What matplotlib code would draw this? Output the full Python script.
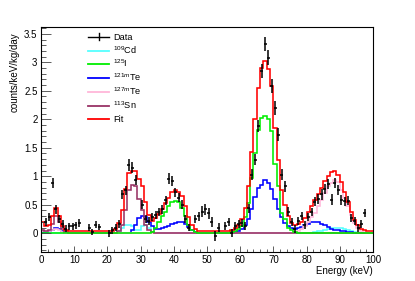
import matplotlib
matplotlib.use("Agg")
import matplotlib.pyplot as plt
import numpy as np
from matplotlib.ticker import MultipleLocator, FuncFormatter
from matplotlib.lines import Line2D

plt.rcParams['font.family'] = ['Liberation Sans', 'DejaVu Sans']
plt.rcParams['mathtext.fontset'] = 'custom'
plt.rcParams['mathtext.rm'] = 'Liberation Sans'
plt.rcParams['mathtext.it'] = 'Liberation Sans:italic'

# ---------------- data ----------------
energy_min, energy_max, bin_width = 0, 100, 1

data_energy = [1.5, 2.5, 3.5, 4.5, 5.5, 6.5, 7.5, 8.5, 9.5, 10.5, 11.5, 14.5, 15.5, 16.5, 17.5,
               20.5, 21.5, 22.5, 23.5, 24.5, 25.5, 26.5, 27.5, 28.5, 30.5, 31.5, 32.5, 33.5,
               34.5, 35.5, 36.5, 37.5, 38.5, 39.5, 40.5, 41.5, 42.5, 43.5, 44.5, 46.5, 47.5,
               48.5, 49.5, 50.5, 51.5, 52.5, 53.5, 55.5, 56.5, 57.5, 58.5, 59.5, 60.5, 61.5,
               62.5, 63.5, 64.5, 65.5, 66.5, 67.5, 68.5, 69.5, 70.5, 71.5, 72.5, 73.5, 74.5,
               75.5, 76.5, 77.5, 78.5, 79.5, 80.5, 81.5, 82.5, 83.5, 84.5, 85.5, 86.5, 87.5,
               88.5, 89.5, 90.5, 91.5, 92.5, 93.5, 94.5, 95.5, 96.5, 97.5]
data_rate = [0.2, 0.28, 0.88, 0.42, 0.25, 0.17, 0.08, 0.12, 0.12, 0.14, 0.18, 0.1, 0.02, 0.15, 0.11,
             0.0, 0.05, 0.1, 0.17, 0.68, 0.75, 1.2, 1.15, 0.93, 0.5, 0.25, 0.22, 0.28,
             0.32, 0.37, 0.42, 0.58, 0.96, 0.92, 0.72, 0.62, 0.5, 0.25, 0.1, 0.25, 0.3,
             0.38, 0.42, 0.35, 0.2, -0.05, 0.1, 0.12, 0.2, 0.0, 0.12, 0.16, 0.18, 0.12,
             0.44, 1.03, 1.29, 1.88, 2.85, 3.32, 3.08, 2.58, 2.2, 1.73, 1.03, 0.82, 0.38,
             0.2, 0.08, 0.22, 0.3, 0.14, 0.29, 0.38, 0.55, 0.6, 0.68, 0.78, 0.87, 0.59,
             0.88, 0.76, 0.58, 0.56, 0.57, 0.26, 0.21, 0.09, 0.17, 0.35]
data_err = [0.07, 0.07, 0.09, 0.08, 0.07, 0.07, 0.06, 0.06, 0.06, 0.06, 0.07, 0.06, 0.06, 0.06, 0.06,
            0.06, 0.06, 0.06, 0.07, 0.08, 0.08, 0.1, 0.1, 0.09, 0.08, 0.07, 0.07, 0.07,
            0.07, 0.07, 0.08, 0.08, 0.09, 0.09, 0.08, 0.08, 0.08, 0.07, 0.07, 0.07, 0.08,
            0.09, 0.1, 0.1, 0.09, 0.08, 0.08, 0.07, 0.07, 0.07, 0.07, 0.07, 0.07, 0.07,
            0.08, 0.1, 0.1, 0.11, 0.12, 0.13, 0.13, 0.12, 0.12, 0.11, 0.1, 0.09, 0.08,
            0.07, 0.07, 0.07, 0.07, 0.07, 0.07, 0.07, 0.08, 0.08, 0.09, 0.09, 0.09, 0.09,
            0.09, 0.09, 0.09, 0.08, 0.08, 0.07, 0.07, 0.07, 0.07, 0.07]

cd109 = [0, 0, 0, 0, 0, 0, 0, 0, 0, 0,
         0, 0, 0, 0, 0, 0, 0, 0, 0, 0,
         0, 0, 0, 0.03, 0.1, 0.15, 0.15, 0.12, 0.06, 0.06,
         0.12, 0.15, 0.1, 0.02, 0, 0, 0, 0, 0, 0,
         0, 0, 0, 0, 0, 0, 0, 0, 0, 0,
         0, 0, 0, 0, 0, 0, 0, 0, 0, 0,
         0, 0, 0, 0, 0, 0, 0, 0, 0, 0,
         0, 0, 0, 0, 0, 0, 0, 0, 0, 0,
         0.01, 0.01, 0.02, 0.03, 0.04, 0.06, 0.08, 0.1, 0.1, 0.1,
         0.09, 0.07, 0.05, 0.03, 0.02, 0.01, 0, 0, 0, 0]
i125 = [0, 0, 0, 0, 0, 0, 0, 0, 0, 0,
        0, 0, 0, 0, 0, 0, 0, 0, 0, 0,
        0, 0, 0, 0, 0, 0, 0, 0, 0, 0,
        0, 0, 0, 0.02, 0.1, 0.2, 0.3, 0.38, 0.47, 0.55,
        0.57, 0.55, 0.45, 0.3, 0.15, 0.06, 0.02, 0, 0, 0,
        0, 0, 0, 0, 0, 0, 0, 0.02, 0.04, 0.07,
        0.13, 0.28, 0.53, 0.97, 1.41, 1.82, 2.02, 2.05, 2.0, 1.8,
        1.22, 0.82, 0.35, 0.25, 0.1, 0.05, 0.02, 0.01, 0, 0,
        0, 0, 0, 0, 0, 0, 0, 0, 0, 0,
        0, 0, 0, 0, 0, 0, 0, 0, 0, 0]
te121m = [0.02, 0.02, 0.03, 0.06, 0.1, 0.07, 0.03, 0.01, 0, 0,
          0, 0, 0, 0, 0, 0, 0, 0, 0, 0,
          0, 0, 0, 0, 0, 0, 0.01, 0.05, 0.15, 0.26,
          0.3, 0.28, 0.2, 0.12, 0.07, 0.07, 0.09, 0.11, 0.13, 0.16,
          0.18, 0.2, 0.19, 0.16, 0.11, 0.06, 0.02, 0.01, 0, 0,
          0, 0, 0, 0, 0, 0, 0, 0.01, 0.02, 0.04,
          0.08, 0.14, 0.25, 0.42, 0.64, 0.8, 0.85, 0.93, 0.88, 0.78,
          0.6, 0.42, 0.28, 0.18, 0.12, 0.09, 0.08, 0.09, 0.11, 0.14,
          0.17, 0.19, 0.2, 0.19, 0.17, 0.14, 0.11, 0.08, 0.06, 0.05,
          0.04, 0.03, 0.02, 0.02, 0.01, 0.01, 0, 0, 0, 0]
te127m = [0.03, 0.03, 0.04, 0.06, 0.07, 0.05, 0.02, 0, 0, 0,
          0, 0, 0, 0, 0, 0, 0, 0, 0, 0,
          0, 0, 0, 0, 0, 0, 0, 0, 0, 0,
          0, 0, 0, 0, 0, 0, 0, 0, 0, 0,
          0, 0, 0, 0, 0, 0, 0, 0, 0, 0,
          0, 0, 0, 0, 0, 0, 0, 0, 0, 0,
          0, 0, 0, 0, 0, 0, 0, 0, 0, 0,
          0, 0, 0, 0, 0, 0.01, 0.02, 0.04, 0.07, 0.12,
          0.2, 0.29, 0.36, 0.47, 0.59, 0.7, 0.82, 0.88, 0.94, 0.9,
          0.76, 0.62, 0.47, 0.32, 0.18, 0.09, 0.04, 0.02, 0.01, 0]
sn113 = [0.06, 0.04, 0.06, 0.17, 0.3, 0.2, 0.07, 0.02, 0, 0,
         0, 0, 0, 0, 0, 0, 0, 0, 0, 0,
         0, 0, 0, 0.03, 0.15, 0.41, 0.76, 0.85, 0.83, 0.6,
         0.4, 0.15, 0.05, 0.02, 0, 0, 0, 0, 0, 0,
         0, 0, 0, 0, 0, 0, 0, 0, 0, 0,
         0, 0, 0, 0, 0, 0, 0, 0, 0, 0,
         0, 0, 0, 0, 0, 0, 0, 0, 0, 0,
         0, 0, 0, 0, 0, 0, 0, 0, 0, 0,
         0, 0, 0, 0, 0, 0, 0, 0, 0, 0,
         0, 0, 0, 0, 0, 0, 0, 0, 0, 0]
fit = [0.2, 0.12, 0.15, 0.3, 0.45, 0.3, 0.12, 0.05, 0.03, 0.03,
       0.03, 0.03, 0.03, 0.03, 0.03, 0.03, 0.03, 0.03, 0.03, 0.03,
       0.03, 0.04, 0.07, 0.18, 0.4, 0.78, 1.05, 1.1, 1.1, 0.95,
       0.82, 0.55, 0.32, 0.22, 0.26, 0.34, 0.42, 0.53, 0.62, 0.72,
       0.76, 0.73, 0.66, 0.48, 0.28, 0.14, 0.07, 0.04, 0.03, 0.03,
       0.03, 0.03, 0.03, 0.03, 0.03, 0.03, 0.03, 0.06, 0.09, 0.14,
       0.25, 0.45, 0.82, 1.42, 2.0, 2.55, 2.9, 3.02, 2.88, 2.58,
       1.85, 1.28, 0.75, 0.5, 0.3, 0.18, 0.15, 0.16, 0.2, 0.27,
       0.37, 0.48, 0.58, 0.68, 0.8, 0.92, 1.0, 1.08, 1.1, 1.03,
       0.9, 0.72, 0.55, 0.38, 0.24, 0.14, 0.08, 0.05, 0.04, 0.03]

labels = ["Data", r"$^{109}$Cd", r"$^{125}$I", r"$^{121m}$Te", r"$^{127m}$Te", r"$^{113}$Sn", "Fit"]
colors = {"cd": "#55ffff", "i": "#00ee00", "te121": "#0000ff", "te127": "#ffb6d9",
          "sn": "#993366", "fit": "#ff0000"}

# ---------------- figure ----------------
W, H = 415, 281
fig = plt.figure(figsize=(W / 100, H / 100), dpi=100)
ax = fig.add_axes([41 / W, 1 - 252 / H, (373 - 41) / W, (252 - 27) / H])

edges = np.arange(energy_min, energy_max + bin_width, bin_width)
lw = 1.15
ax.stairs(cd109, edges, color=colors["cd"], lw=lw, baseline=None)
ax.stairs(te121m, edges, color=colors["te121"], lw=lw, baseline=None)
ax.stairs(te127m, edges, color=colors["te127"], lw=lw, baseline=None)
ax.stairs(sn113, edges, color=colors["sn"], lw=lw, baseline=None)
ax.stairs(i125, edges, color=colors["i"], lw=lw, baseline=None)
ax.stairs(fit, edges, color=colors["fit"], lw=lw, baseline=None)

ax.errorbar(data_energy, data_rate, yerr=data_err, xerr=0.45, fmt='none',
            ecolor='black', elinewidth=1.1, capsize=0, zorder=5)

ax.set_xlim(0, 100)
ax.set_ylim(-0.33, 3.62)

ax.xaxis.set_major_locator(MultipleLocator(10))
ax.xaxis.set_minor_locator(MultipleLocator(2))
ax.yaxis.set_major_locator(MultipleLocator(0.5))
ax.yaxis.set_minor_locator(MultipleLocator(0.1))
ax.yaxis.set_major_formatter(FuncFormatter(lambda v, p: "%g" % v))
ax.tick_params(axis='x', which='major', direction='in', length=4.5, width=0.6,
               color='#444444', labelsize=7, pad=2.5)
ax.tick_params(axis='x', which='minor', direction='in', length=2.4, width=0.6, color='#444444')
ax.tick_params(axis='y', which='major', direction='in', length=7, width=0.6,
               color='#444444', labelsize=7, pad=2.5)
ax.tick_params(axis='y', which='minor', direction='in', length=3.6, width=0.6, color='#444444')
for s in ax.spines.values():
    s.set_linewidth(0.8)

fig.text(15 / W, 1 - 32 / H, "counts/keV/kg/day", rotation=90, ha='center', va='top', fontsize=7)
fig.text(373 / W, 1 - 271.5 / H, "Energy (keV)", ha='right', va='center', fontsize=7)

# legend (manual, ROOT style)
row_y = [36.7, 50.5, 64.2, 78.0, 91.7, 105.5, 119.2]
leg_colors = [None, colors["cd"], colors["i"], colors["te121"], colors["te127"], colors["sn"], colors["fit"]]
x0, x1, xt = 88, 109, 113
for lab, c, yy in zip(labels, leg_colors, row_y):
    fy = 1 - yy / H
    if c is None:
        fig.add_artist(Line2D([x0 / W, x1 / W], [fy, fy], color='black', lw=1.0, transform=fig.transFigure))
        fig.add_artist(Line2D([(x0 + x1) / 2 / W] * 2, [1 - (yy - 3.7) / H, 1 - (yy + 3.7) / H],
                              color='black', lw=1.0, transform=fig.transFigure))
    else:
        fig.add_artist(Line2D([x0 / W, x1 / W], [fy, fy], color=c, lw=1.3, transform=fig.transFigure))
    fig.text(xt / W, 1 - (yy + 3.2) / H, lab, ha='left', va='baseline', fontsize=6.6)

fig.savefig("out.png", dpi=100)
